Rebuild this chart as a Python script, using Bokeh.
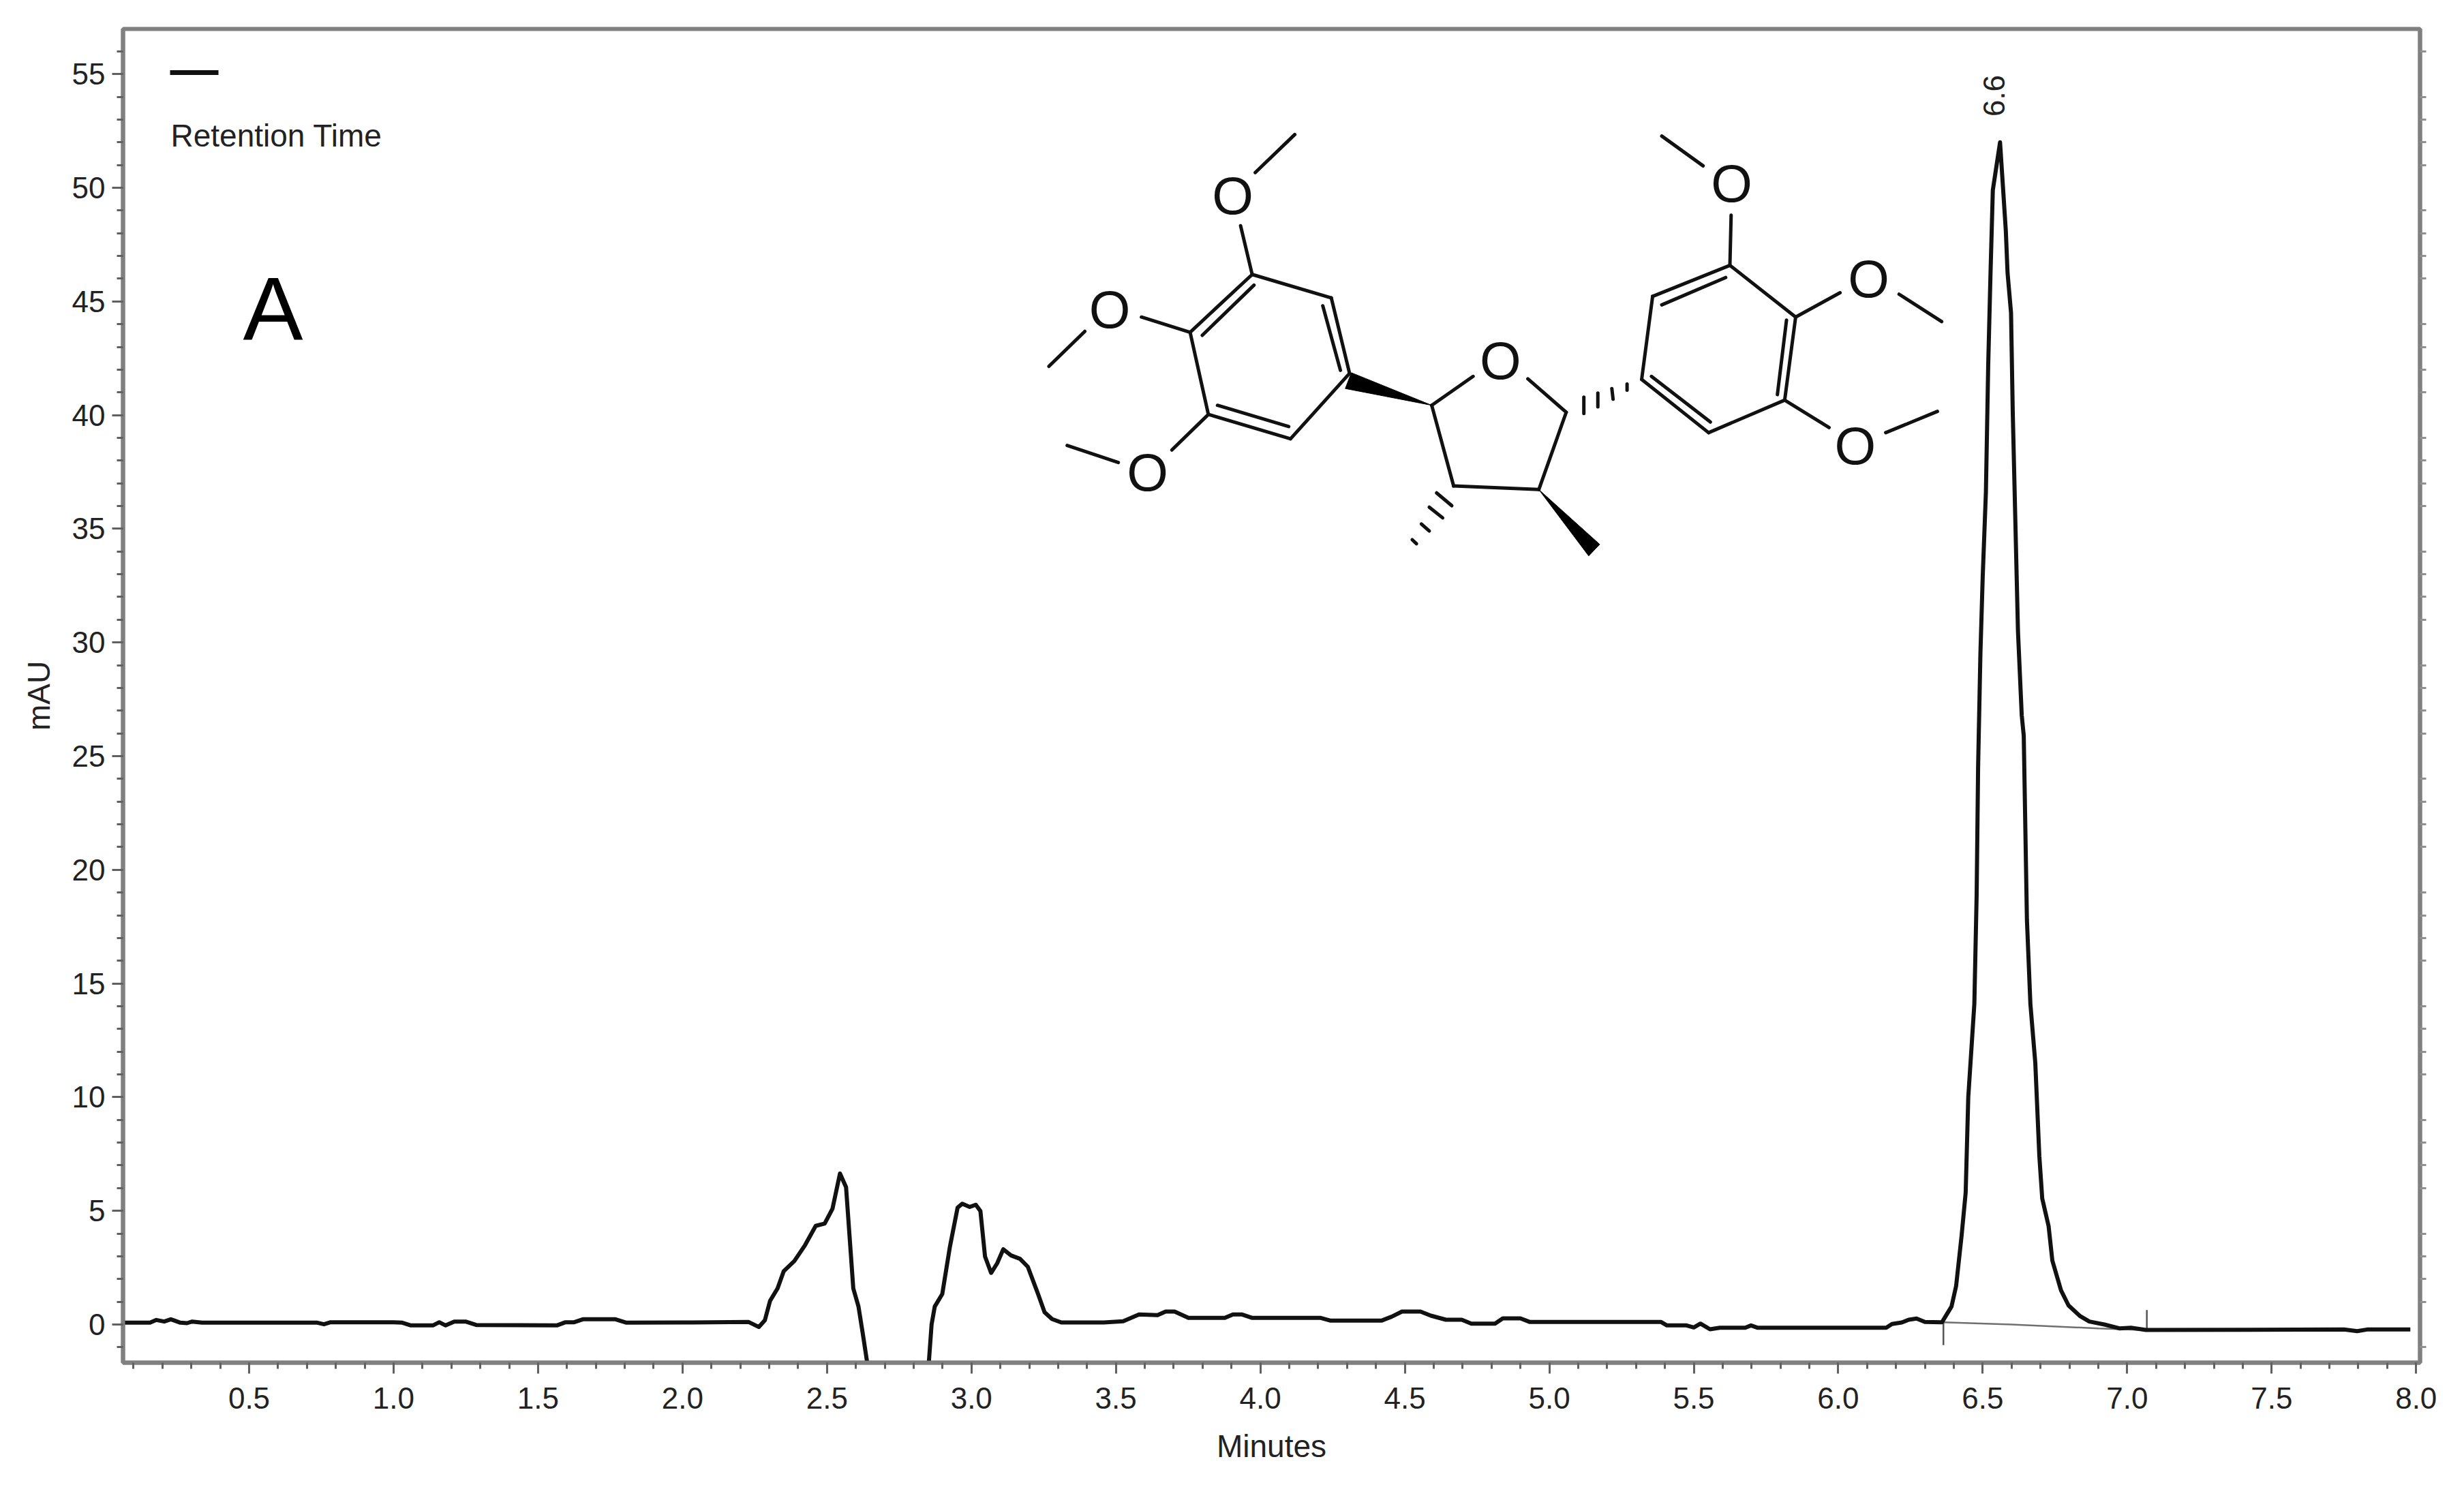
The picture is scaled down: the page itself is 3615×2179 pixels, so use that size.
from math import nan, pi
from bokeh.plotting import figure
from bokeh.models import Range1d, LinearAxis, FixedTicker, NumeralTickFormatter
from bokeh.core.properties import value
from bokeh.embed import file_html
from bokeh.resources import INLINE

# ---------- chromatogram ----------
trace_minutes = [
    0.062, 0.157, 0.179, 0.206, 0.229, 0.262, 0.285, 0.303, 0.337, 0.736, 0.759, 0.782, 1.0, 1.03, 1.06,
    1.136, 1.158, 1.18, 1.21, 1.249, 1.286, 1.565, 1.595, 1.625, 1.655, 1.768, 1.806, 2.002, 2.229, 2.264,
    2.285, 2.303, 2.329, 2.350, 2.387, 2.424, 2.461, 2.492, 2.519, 2.545, 2.566, 2.582, 2.591, 2.609, 2.624, 2.64,
    nan,
    2.852, 2.862, 2.873, 2.899, 2.925, 2.952, 2.968, 2.994, 3.015, 3.031, 3.047, 3.068, 3.089, 3.110, 3.137,
    3.168, 3.195, 3.232, 3.253, 3.279, 3.311, 3.458, 3.525, 3.58, 3.644, 3.672, 3.703, 3.751, 3.877, 3.905,
    3.937, 3.972, 4.209, 4.243, 4.419, 4.454, 4.49, 4.554, 4.59, 4.642, 4.697, 4.73, 4.812, 4.839, 4.90,
    4.933, 5.387, 5.407, 5.475, 5.5, 5.523, 5.556, 5.59, 5.678, 5.698, 5.72, 6.166, 6.186, 6.22, 6.244,
    6.271, 6.30, 6.359, 6.392, 6.408, 6.427, 6.441, 6.450, 6.471, 6.479, 6.484, 6.492, 6.500, 6.511, 6.519,
    6.527, 6.535, 6.560, 6.58, 6.586, 6.598, 6.604, 6.613, 6.622, 6.635, 6.642, 6.653, 6.665, 6.682, 6.696,
    6.706, 6.728, 6.741, 6.771, 6.797, 6.836, 6.869, 6.921, 6.973, 7.013, 7.065, 7.75, 7.796, 7.83, 7.98,
]
trace_mau = [
    0.08, 0.08, 0.20, 0.13, 0.23, 0.08, 0.06, 0.13, 0.08, 0.08, 0.01, 0.10, 0.10, 0.08, -0.04,
    -0.04, 0.10, -0.04, 0.13, 0.13, -0.02, -0.04, 0.10, 0.10, 0.23, 0.23, 0.08, 0.09, 0.11, -0.11,
    0.19, 1.04, 1.59, 2.34, 2.79, 3.49, 4.34, 4.44, 5.09, 6.64, 6.04, 3.19, 1.59, 0.79, -0.41, -1.75,
    nan,
    -1.75, 0.0, 0.79, 1.34, 3.39, 5.14, 5.31, 5.17, 5.27, 4.99, 2.99, 2.27, 2.69, 3.31, 3.04,
    2.89, 2.54, 1.29, 0.54, 0.24, 0.09, 0.09, 0.14, 0.44, 0.41, 0.57, 0.57, 0.29, 0.29, 0.44,
    0.44, 0.29, 0.29, 0.17, 0.17, 0.34, 0.57, 0.57, 0.39, 0.21, 0.21, 0.04, 0.04, 0.27, 0.27,
    0.11, 0.11, -0.04, -0.04, -0.13, 0.04, -0.21, -0.14, -0.14, -0.04, -0.14, -0.14, 0.02, 0.09, 0.21,
    0.26, 0.11, 0.10, 0.79, 1.70, 3.92, 5.8, 10.0, 14.1, 18.9, 24.5, 29.5, 32.9, 36.6, 42.2,
    46.25, 49.9, 52.0, 48.1, 46.25, 44.5, 40.1, 35.3, 30.5, 26.8, 25.9, 17.8, 14.1, 11.5, 7.4,
    5.54, 4.33, 2.81, 1.50, 0.84, 0.38, 0.13, 0.0, -0.17, -0.14, -0.24, -0.22, -0.29, -0.22, -0.22,
]
baseline_minutes = [6.364, 6.6, 6.9, 7.068]
baseline_mau = [0.10, 0.0, -0.17, -0.25]
peak_start_tick_minutes = [6.364, 6.364]
peak_start_tick_mau = [0.10, -0.91]
peak_end_tick_minutes = [7.068, 7.068]
peak_end_tick_mau = [0.64, -0.27]
peak_label = ["6.6"]
peak_label_minutes = [6.54]

x_major = [0.5 * i for i in range(1, 17)]
x_minor = [0.1 * i for i in range(1, 81)]
y_major = [5 * i for i in range(0, 12)]
y_minor = list(range(-1, 57))

bonds = [
    (382, 230, 447, 105), (358, 405, 377, 565), (377, 565, 507, 642), (507, 642, 537, 890), (537, 890, 440, 1105),
    (440, 1105, 305, 1025), (305, 1025, 275, 755), (275, 755, 377, 565), (380, 600, 295, 765), (493, 668, 522, 880),
    (320, 995, 437, 1065), (195, 705, 275, 755), (102, 752, 43, 867), (305, 1025, 245, 1142), (157, 1183, 73, 1127),
    (672, 995, 740, 900), (830, 908, 893, 1018), (893, 1018, 848, 1272), (848, 1272, 708, 1260), (708, 1260, 672, 995),
    (1162, 535, 1270, 705), (1270, 705, 1252, 978), (1252, 978, 1127, 1085), (1127, 1085, 1017, 910), (1017, 910, 1035, 637),
    (1035, 637, 1162, 535), (1155, 575, 1050, 665), (1255, 715, 1240, 960), (1033, 900, 1130, 1050), (1164, 370, 1162, 535),
    (1118, 208, 1050, 110), (1270, 705, 1343, 625), (1440, 630, 1510, 720), (1252, 978, 1325, 1068), (1418, 1085, 1503, 1015),
    (922, 968, 922, 1022), (945, 955, 945, 1000), (968, 940, 970, 975), (993, 925, 993, 945),
    (680, 1283, 705, 1325), (668, 1330, 690, 1365), (655, 1385, 668, 1408), (640, 1437, 647, 1450),
]
wedges = [
    [(540, 888), (530, 940), (672, 995)],
    [(848, 1272), (948, 1452), (930, 1490)],
]
oxygens = [(345, 305), (143, 680), (205, 1215), (785, 848), (1165, 265), (1390, 580), (1368, 1128)]


def mx(px):
    return 0.5 + (px - 365) / 423.9


def my(py):
    return (1943 - py) / 33.36


def sx(zx):
    return mx(1500 + zx / 1.12)


def sy(zy):
    return my(150 + zy / 2.24)


FONT = value("Liberation Sans")
AXIS = "#808080"

p = figure(
    width=3599, height=2163, output_backend="svg", toolbar_location=None,
    x_range=Range1d(mx(180), mx(3550)), y_range=Range1d(my(1999), my(42)),
    min_border_left=180, min_border_right=49, min_border_top=42, min_border_bottom=164,
    x_axis_label="Minutes", y_axis_label="mAU",
)
p.grid.visible = False
p.background_fill_color = "white"
p.border_fill_color = "white"
p.outline_line_color = AXIS
p.outline_line_width = 6
p.outline_line_alpha = 1


def style(ax, major, minor, fmt):
    ax.ticker = FixedTicker(ticks=major, minor_ticks=minor)
    ax.formatter = NumeralTickFormatter(format=fmt)
    ax.axis_line_color = AXIS
    ax.axis_line_width = 6
    ax.major_tick_line_color = "#606060"
    ax.major_tick_line_width = 3
    ax.minor_tick_line_color = "#606060"
    ax.minor_tick_line_width = 3
    ax.major_tick_in = 0
    ax.major_tick_out = 16
    ax.minor_tick_in = 0
    ax.minor_tick_out = 9
    ax.major_label_text_font = "Liberation Sans"
    ax.major_label_text_font_size = "44px"
    ax.major_label_text_color = "#222222"
    ax.axis_label_text_font = "Liberation Sans"
    ax.axis_label_text_font_style = "normal"
    ax.axis_label_text_font_size = "46px"
    ax.axis_label_text_color = "#222222"


style(p.xaxis[0], x_major, x_minor, "0.0")
style(p.yaxis[0], y_major, y_minor, "0")
p.xaxis[0].major_label_standoff = 20
p.yaxis[0].major_label_standoff = 10
p.xaxis[0].axis_label_standoff = 26
p.yaxis[0].axis_label_standoff = 20

right = LinearAxis()
style(right, y_major, [v for v in y_minor if v % 5 != 0], "0")
right.major_tick_out = 0
right.major_label_text_font_size = "0px"
right.major_label_text_color = None
right.major_tick_line_color = None
right.minor_tick_line_color = "#909090"
p.add_layout(right, "right")

# integration baseline and peak limits
p.line(baseline_minutes, baseline_mau, line_color="#707070", line_width=2.5)
p.line(peak_start_tick_minutes, peak_start_tick_mau, line_color="#555555", line_width=2.5)
p.line(peak_end_tick_minutes, peak_end_tick_mau, line_color="#555555", line_width=2.5)

# trace
p.line(trace_minutes, trace_mau, line_color="#111111", line_width=6, line_join="round")

# peak label
p.text(peak_label_minutes, [my(140)], text=peak_label, angle=pi / 2, text_font=FONT, text_font_size="44px",
       text_align="center", text_baseline="middle", text_color="#222222")

# legend
p.line([mx(249), mx(320)], [my(106), my(106)], line_color="#111111", line_width=7)
p.text([mx(250)], [my(198)], text=["Retention Time"], text_font=FONT, text_font_size="46px",
       text_align="left", text_baseline="middle", text_color="#222222")

# panel letter
p.text([mx(400)], [my(453)], text=["A"], text_font=FONT, text_font_size="132px",
       text_align="center", text_baseline="middle", text_color="black")

# structure
p.segment([sx(b[0]) for b in bonds], [sy(b[1]) for b in bonds], [sx(b[2]) for b in bonds], [sy(b[3]) for b in bonds],
          line_color="#111111", line_width=5, line_cap="round")
p.patches([[sx(v[0]) for v in w] for w in wedges], [[sy(v[1]) for v in w] for w in wedges],
          fill_color="black", line_color="black", line_width=1)
p.text([sx(o[0]) for o in oxygens], [sy(o[1]) for o in oxygens], text=["O"] * len(oxygens), text_font=FONT,
       text_font_size="78px", text_align="center", text_baseline="middle", text_color="#111111")

open("out.html", "w").write(file_html(p, INLINE))
